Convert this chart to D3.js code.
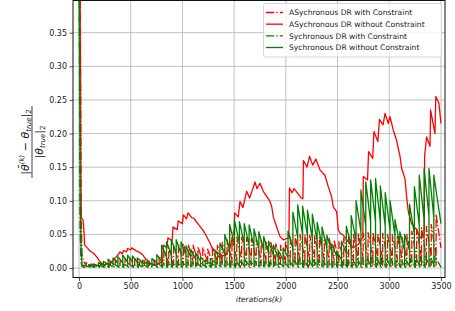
<!DOCTYPE html>
<html>
<head>
<meta charset="utf-8">
<script src="https://cdn.jsdelivr.net/npm/d3@7.9.0/dist/d3.min.js"></script>
<style>
  body { margin: 0; background: #fff; }
  svg { display: block; font-family: "DejaVu Sans", sans-serif; }
</style>
</head>
<body>
<svg id="vis"></svg>
<script>
const width = 455;
const height = 311;
const margin = { top: 0.5, right: 10, bottom: 33.5, left: 73 };

// --- data ---
const maxIter = 3500;
const period = 47;
const xTicks = [0, 500, 1000, 1500, 2000, 2500, 3000, 3500];
const yTicks = [0, 0.05, 0.10, 0.15, 0.20, 0.25, 0.30, 0.35];
const seriesNames = [
    "ASychronous DR with Constraint",
    "ASychronous DR without Constraint",
    "Sychronous DR with Constraint",
    "Sychronous DR without Constraint"
];

// red solid: async without constraint, [iteration, error]
const asyncFree = [
    [0, 0.46], [10, 0.42], [14, 0.29], [18, 0.12], [22, 0.075], [40, 0.071], [50, 0.05], [55, 0.034],
    [80, 0.030], [110, 0.025], [140, 0.022], [170, 0.017], [190, 0.012], [210, 0.008], [240, 0.005],
    [280, 0.006], [320, 0.010], [350, 0.015], [380, 0.020], [395, 0.024], [420, 0.021], [430, 0.026],
    [460, 0.024], [470, 0.029], [500, 0.027], [510, 0.030], [540, 0.027], [560, 0.025], [590, 0.023],
    [620, 0.019], [640, 0.014], [660, 0.012], [680, 0.007], [720, 0.005], [780, 0.007], [810, 0.012],
    [815, 0.034], [850, 0.030], [860, 0.045], [900, 0.040], [910, 0.061], [950, 0.057], [960, 0.070],
    [1000, 0.066], [1010, 0.079], [1040, 0.073], [1054, 0.082], [1090, 0.075], [1110, 0.074],
    [1140, 0.068], [1170, 0.062], [1200, 0.056], [1230, 0.048], [1250, 0.042], [1270, 0.036],
    [1285, 0.030], [1330, 0.024], [1390, 0.018], [1420, 0.020], [1460, 0.030], [1490, 0.050],
    [1500, 0.057], [1505, 0.082], [1540, 0.076], [1557, 0.099], [1585, 0.090], [1621, 0.114],
    [1650, 0.104], [1702, 0.128], [1720, 0.118], [1750, 0.126], [1782, 0.114], [1800, 0.110],
    [1847, 0.099], [1865, 0.090], [1879, 0.076], [1911, 0.061], [1943, 0.047], [1975, 0.042],
    [2030, 0.045], [2035, 0.119], [2060, 0.112], [2080, 0.118], [2150, 0.104], [2165, 0.103],
    [2170, 0.160], [2205, 0.150], [2230, 0.166], [2260, 0.153], [2290, 0.162], [2330, 0.146],
    [2378, 0.138], [2410, 0.121], [2443, 0.106], [2459, 0.091], [2491, 0.084], [2507, 0.057],
    [2523, 0.052], [2555, 0.049], [2600, 0.040], [2650, 0.030], [2700, 0.035], [2745, 0.045],
    [2749, 0.136], [2790, 0.131], [2800, 0.173], [2840, 0.163], [2852, 0.203], [2890, 0.188],
    [2905, 0.221], [2940, 0.213], [2959, 0.230], [2991, 0.215], [3007, 0.225], [3039, 0.205],
    [3071, 0.190], [3104, 0.166], [3120, 0.148], [3152, 0.133], [3168, 0.106], [3184, 0.084],
    [3216, 0.066], [3264, 0.057], [3300, 0.045], [3338, 0.050], [3342, 0.166], [3361, 0.195],
    [3394, 0.181], [3400, 0.235], [3442, 0.200], [3450, 0.255], [3480, 0.245], [3500, 0.215]
];

// sawtooth series: one peak / trough per restart (every `period` iterations)
const syncFreeHead = [[0, 0.46], [6, 0.30], [12, 0.10], [20, 0.03], [30, 0.005], [46, 0.003]];
const syncFreePeaks = [
    0.004, 0.005, 0.006, 0.008, 0.010, 0.013, 0.015, 0.017, 0.019, 0.019,
    0.018, 0.015, 0.012, 0.011, 0.014, 0.020, 0.034, 0.039, 0.042, 0.042,
    0.039, 0.033, 0.028, 0.022, 0.017, 0.012, 0.014, 0.026, 0.037, 0.050,
    0.065, 0.071, 0.069, 0.066, 0.064, 0.058, 0.054, 0.047, 0.040, 0.034,
    0.026, 0.030, 0.055, 0.083, 0.094, 0.092, 0.086, 0.080, 0.068, 0.061,
    0.049, 0.036, 0.025, 0.040, 0.062, 0.078, 0.100, 0.116, 0.128, 0.131,
    0.133, 0.122, 0.112, 0.100, 0.072, 0.054, 0.050, 0.095, 0.121, 0.138,
    0.148, 0.148, 0.138
];
const syncFreeTroughs = [
    0.002, 0.002, 0.003, 0.004, 0.005, 0.006, 0.007, 0.008, 0.009, 0.009,
    0.008, 0.007, 0.006, 0.005, 0.007, 0.010, 0.017, 0.020, 0.022, 0.021,
    0.019, 0.016, 0.013, 0.010, 0.008, 0.006, 0.008, 0.014, 0.020, 0.027,
    0.034, 0.037, 0.036, 0.034, 0.032, 0.029, 0.026, 0.022, 0.019, 0.015,
    0.012, 0.016, 0.030, 0.045, 0.050, 0.048, 0.044, 0.040, 0.034, 0.030,
    0.024, 0.017, 0.012, 0.022, 0.034, 0.042, 0.054, 0.062, 0.068, 0.069,
    0.068, 0.062, 0.056, 0.048, 0.035, 0.026, 0.026, 0.050, 0.064, 0.072,
    0.077, 0.075, 0.066
];
const syncFreeLow = 0.002;

const asyncConHead = [[0, 0.46], [12, 0.40], [16, 0.29], [22, 0.07], [30, 0.02], [45, 0.01], [68, 0.004]];
const asyncConPeaks = [
    0.008, 0.006, 0.006, 0.007, 0.008, 0.010, 0.012, 0.012, 0.014, 0.015,
    0.015, 0.013, 0.012, 0.010, 0.012, 0.018, 0.025, 0.030, 0.034, 0.036,
    0.036, 0.035, 0.034, 0.032, 0.030, 0.028, 0.030, 0.034, 0.038, 0.042,
    0.045, 0.046, 0.046, 0.045, 0.044, 0.043, 0.042, 0.040, 0.038, 0.036,
    0.034, 0.040, 0.046, 0.048, 0.050, 0.050, 0.049, 0.048, 0.047, 0.046,
    0.044, 0.042, 0.040, 0.045, 0.048, 0.050, 0.052, 0.052, 0.053, 0.053,
    0.052, 0.052, 0.050, 0.050, 0.048, 0.046, 0.050, 0.055, 0.058, 0.060,
    0.062, 0.065, 0.080
];
const asyncConTroughs = [
    0.003, 0.003, 0.003, 0.003, 0.004, 0.004, 0.005, 0.005, 0.005, 0.006,
    0.006, 0.005, 0.005, 0.004, 0.005, 0.006, 0.008, 0.009, 0.010, 0.010,
    0.010, 0.010, 0.010, 0.009, 0.009, 0.008, 0.009, 0.010, 0.011, 0.012,
    0.012, 0.012, 0.012, 0.012, 0.012, 0.011, 0.011, 0.011, 0.010, 0.010,
    0.010, 0.011, 0.012, 0.012, 0.013, 0.013, 0.013, 0.012, 0.012, 0.012,
    0.012, 0.011, 0.011, 0.012, 0.013, 0.013, 0.014, 0.014, 0.014, 0.014,
    0.014, 0.014, 0.013, 0.013, 0.013, 0.012, 0.013, 0.014, 0.015, 0.015,
    0.016, 0.016, 0.030
];
const asyncConLow = 0.004;

const syncConHead = [[0, 0.46], [5, 0.25], [10, 0.06], [18, 0.01], [30, 0.002], [56, 0.001]];
const syncConPeaks = [
    0.003, 0.003, 0.004, 0.004, 0.005, 0.005, 0.006, 0.006, 0.006, 0.006,
    0.006, 0.005, 0.005, 0.005, 0.006, 0.007, 0.008, 0.009, 0.010, 0.010,
    0.010, 0.009, 0.009, 0.008, 0.007, 0.007, 0.008, 0.009, 0.010, 0.011,
    0.012, 0.012, 0.012, 0.012, 0.011, 0.011, 0.010, 0.010, 0.009, 0.009,
    0.008, 0.009, 0.011, 0.012, 0.013, 0.013, 0.013, 0.012, 0.012, 0.011,
    0.010, 0.010, 0.009, 0.010, 0.012, 0.013, 0.014, 0.015, 0.015, 0.016,
    0.016, 0.015, 0.015, 0.014, 0.013, 0.012, 0.012, 0.014, 0.016, 0.017,
    0.018, 0.018, 0.018
];
const syncConLow = 0.001;

// restart offsets of each sawtooth (iterations)
const asyncConStart = 69;
const syncFreeStart = 47;
const syncConStart = 57;

// --- build point lists ---
function buildTeeth(head, start, peaks, troughs, low) {
    const pts = head.slice();
    peaks.forEach((p, i) => {
        const k0 = start + i * period;
        const k1 = i === peaks.length - 1 ? maxIter : Math.min(k0 + period, maxIter);
        const t = troughs ? troughs[i] : low;
        pts.push([k0, low], [k0, p], [k1, t]);
    });
    return pts;
}

const series = [
    { name: seriesNames[0], color: "red", dash: true, points: buildTeeth(asyncConHead, asyncConStart, asyncConPeaks, asyncConTroughs, asyncConLow) },
    { name: seriesNames[1], color: "red", dash: false, points: asyncFree },
    { name: seriesNames[2], color: "green", dash: true, points: buildTeeth(syncConHead, syncConStart, syncConPeaks, null, syncConLow) },
    { name: seriesNames[3], color: "green", dash: false, points: buildTeeth(syncFreeHead, syncFreeStart, syncFreePeaks, syncFreeTroughs, syncFreeLow) }
];

// --- chart ---
const svg = d3.select("#vis")
    .attr("width", width)
    .attr("height", height);

const x = d3.scaleLinear()
    .domain([-58, 3539])
    .range([margin.left, width - margin.right]);

const y = d3.scaleLinear()
    .domain([-0.01413, 0.3979])
    .range([height - margin.bottom, margin.top]);

const lw = 1.3;
const dashdot = [6.4 * lw, 1.6 * lw, 1.0 * lw, 1.6 * lw].join(",");

svg.append("defs").append("clipPath")
    .attr("id", "plotClip")
    .append("rect")
    .attr("x", margin.left)
    .attr("y", margin.top)
    .attr("width", width - margin.right - margin.left)
    .attr("height", height - margin.bottom - margin.top);

// grid
const grid = svg.append("g").attr("stroke", "#b0b0b0").attr("stroke-width", 0.8);
grid.selectAll(".gx")
    .data(xTicks)
    .join("line")
    .attr("x1", d => x(d)).attr("x2", d => x(d))
    .attr("y1", margin.top).attr("y2", height - margin.bottom);
grid.selectAll(".gy")
    .data(yTicks)
    .join("line")
    .attr("x1", margin.left).attr("x2", width - margin.right)
    .attr("y1", d => y(d)).attr("y2", d => y(d));

// lines
const line = d3.line()
    .x(d => x(d[0]))
    .y(d => y(d[1]));

svg.append("g")
    .attr("clip-path", "url(#plotClip)")
    .selectAll("path")
    .data(series)
    .join("path")
    .attr("d", d => line(d.points))
    .attr("fill", "none")
    .attr("stroke", d => d.color)
    .attr("stroke-width", lw)
    .attr("stroke-linejoin", "round")
    .attr("stroke-dasharray", d => d.dash ? dashdot : null);

// axes
const xAxis = svg.append("g")
    .attr("transform", `translate(0,${height - margin.bottom})`)
    .call(d3.axisBottom(x).tickValues(xTicks).tickFormat(d3.format("d")).tickSize(3.5).tickPadding(2.5));

const yAxis = svg.append("g")
    .attr("transform", `translate(${margin.left},0)`)
    .call(d3.axisLeft(y).tickValues(yTicks).tickFormat(d3.format(".2f")).tickSize(3.5).tickPadding(2.5));

[xAxis, yAxis].forEach(a => {
    a.select(".domain").remove();
    a.selectAll("text").attr("font-size", 8).attr("fill", "#222").attr("font-family", "DejaVu Sans");
    a.selectAll("line").attr("stroke", "#222").attr("stroke-width", 0.8);
});

// spines
svg.append("rect")
    .attr("x", margin.left)
    .attr("y", margin.top)
    .attr("width", width - margin.right - margin.left)
    .attr("height", height - margin.bottom - margin.top)
    .attr("fill", "none")
    .attr("stroke", "#111")
    .attr("stroke-width", 1);

// x label
svg.append("text")
    .attr("x", (margin.left + width - margin.right) / 2)
    .attr("y", 302)
    .attr("text-anchor", "middle")
    .attr("font-size", 7.6)
    .attr("font-style", "italic")
    .attr("fill", "#222")
    .text("iterations(k)");

// y label: fraction, rotated
const yl = svg.append("g")
    .attr("transform", "translate(32,142) rotate(-90)")
    .attr("fill", "#111")
    .attr("font-size", 11);

const num = yl.append("text")
    .attr("x", 0)
    .attr("y", -3.5)
    .attr("text-anchor", "middle");
num.append("tspan").text("|");
num.append("tspan").attr("font-style", "italic").text("θ\u0304");
num.append("tspan").attr("font-size", 7).attr("dy", -4.5).attr("font-style", "italic").text("(k)");
num.append("tspan").attr("dy", 4.5).text(" − ");
num.append("tspan").attr("font-style", "italic").text("θ");
num.append("tspan").attr("font-size", 7).attr("dy", 2).attr("font-style", "italic").text("true");
num.append("tspan").attr("dy", -2).text("|");
num.append("tspan").attr("font-size", 7).attr("dy", 2).text("2");

yl.append("line")
    .attr("x1", -36).attr("x2", 36)
    .attr("y1", 0).attr("y2", 0)
    .attr("stroke", "#111")
    .attr("stroke-width", 0.8);

const den = yl.append("text")
    .attr("x", 0)
    .attr("y", 11)
    .attr("text-anchor", "middle");
den.append("tspan").text("|");
den.append("tspan").attr("font-style", "italic").text("θ");
den.append("tspan").attr("font-size", 7).attr("dy", 2).attr("font-style", "italic").text("true");
den.append("tspan").attr("dy", -2).text("|");
den.append("tspan").attr("font-size", 7).attr("dy", 2).text("2");

// legend
const legend = svg.append("g");
legend.append("rect")
    .attr("x", 263.5)
    .attr("y", 3.5)
    .attr("width", 178)
    .attr("height", 53.5)
    .attr("rx", 2)
    .attr("fill", "white")
    .attr("fill-opacity", 0.8)
    .attr("stroke", "#cccccc")
    .attr("stroke-width", 0.8);

const rowY = d3.scalePoint()
    .domain(seriesNames)
    .range([12.5, 47.5]);

const rows = legend.selectAll(".row")
    .data(series)
    .join("g")
    .attr("transform", d => `translate(0,${rowY(d.name)})`);

rows.append("line")
    .attr("x1", 266).attr("x2", 283)
    .attr("y1", 0).attr("y2", 0)
    .attr("stroke", d => d.color)
    .attr("stroke-width", lw)
    .attr("stroke-dasharray", d => d.dash ? dashdot : null);

rows.append("text")
    .attr("x", 289)
    .attr("y", 2.8)
    .attr("font-size", 7.6)
    .attr("fill", "#222")
    .text(d => d.name);
</script>
</body>
</html>
